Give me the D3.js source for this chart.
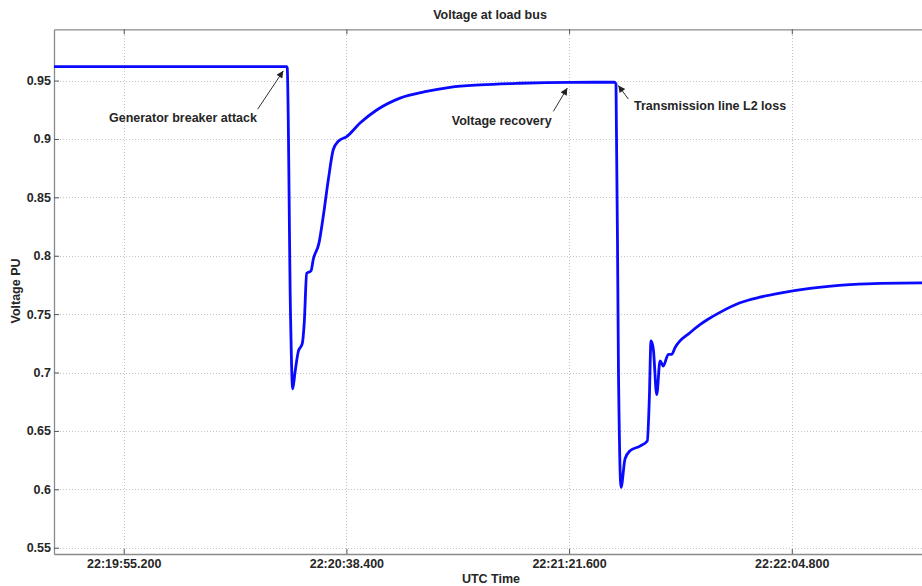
<!DOCTYPE html>
<html>
<head>
<meta charset="utf-8">
<script src="https://cdn.jsdelivr.net/npm/d3@7"></script>
<style>
  html, body { margin: 0; padding: 0; background: #fff; }
  svg { display: block; }
  text { font-family: "Liberation Sans", Arial, sans-serif; font-weight: bold; fill: #262626; }
</style>
</head>
<body>
<svg id="chart" width="922" height="586"></svg>
<script>
// ---- data ----
const times = [
  "22:19:41.680", "22:20:26.820", "22:20:26.920", "22:20:27.560", "22:20:27.980",
  "22:20:28.430", "22:20:29.070", "22:20:29.850", "22:20:30.230", "22:20:30.700",
  "22:20:31.530", "22:20:31.980", "22:20:33.090", "22:20:33.920", "22:20:34.890",
  "22:20:35.860", "22:20:36.830", "22:20:38.460", "22:20:41.040", "22:20:44.280",
  "22:20:48.800", "22:20:53.650", "22:20:58.500", "22:21:04.320", "22:21:12.080",
  "22:21:21.780", "22:21:30.410", "22:21:30.700", "22:21:31.180", "22:21:31.670",
  "22:21:32.450", "22:21:33.420", "22:21:35.360", "22:21:36.770", "22:21:37.160",
  "22:21:37.490", "22:21:37.940", "22:21:38.600", "22:21:39.240", "22:21:39.870",
  "22:21:40.850", "22:21:41.510", "22:21:42.150", "22:21:45.050", "22:21:46.990",
  "22:21:48.550", "22:21:50.870", "22:21:54.750", "22:21:58.630", "22:22:02.510",
  "22:22:08.330", "22:22:16.090", "22:22:21.910", "22:22:33.550"
];
const voltages = [
  0.962, 0.962, 0.961, 0.750, 0.686,
  0.700, 0.718, 0.725, 0.743, 0.785,
  0.787, 0.797, 0.811, 0.834, 0.865,
  0.891, 0.898, 0.902, 0.9136, 0.9248,
  0.935, 0.9405, 0.9442, 0.9463, 0.9477,
  0.9485, 0.9486, 0.947, 0.700, 0.6016,
  0.626, 0.633, 0.637, 0.6414, 0.677,
  0.727, 0.720, 0.681, 0.710, 0.7056,
  0.7156, 0.7156, 0.7213, 0.7341, 0.741,
  0.7456, 0.7515, 0.7597, 0.7645, 0.768,
  0.772, 0.7752, 0.7764, 0.7768
];
const xTickLabels = ["22:19:55.200", "22:20:38.400", "22:21:21.600", "22:22:04.800"];
const yTickValues = [0.55, 0.6, 0.65, 0.7, 0.75, 0.8, 0.85, 0.9, 0.95];
const xDomain = ["22:19:41.680", "22:22:33.550"];
const yDomain = [0.5446, 0.9939];
const annotations = [
  { text: "Generator breaker attack", time: "22:20:26.820", value: 0.962 },
  { text: "Voltage recovery", time: "22:21:21.390", value: 0.9485 },
  { text: "Transmission line L2 loss", time: "22:21:30.600", value: 0.9486 }
];
const titleText = "Voltage at load bus";
const xLabel = "UTC Time";
const yLabel = "Voltage PU";

// ---- layout ----
const parse = d3.utcParse("%H:%M:%S.%L");
const fmt = d3.utcFormat("%H:%M:%S.%L");
const L = 54, R = 940, T = 29.3, B = 554;
const svg = d3.select("#chart");

const x = d3.scaleUtc().domain(xDomain.map(parse)).range([L, R]);
const y = d3.scaleLinear().domain(yDomain).range([B, T]);

const data = times.map((t, i) => ({ t: parse(t), v: voltages[i] }));
const xTicks = xTickLabels.map(parse);

// grid
const grid = svg.append("g").attr("stroke", "#c4c4c4").attr("stroke-width", 1)
  .attr("stroke-dasharray", "1,2").attr("shape-rendering", "crispEdges");
grid.selectAll("line.gx").data(xTicks).join("line").attr("class", "gx")
  .attr("x1", d => Math.round(x(d)) + 0.5).attr("x2", d => Math.round(x(d)) + 0.5)
  .attr("y1", T).attr("y2", B);
grid.selectAll("line.gy").data(yTickValues).join("line").attr("class", "gy")
  .attr("x1", L).attr("x2", R)
  .attr("y1", d => Math.round(y(d)) + 0.5).attr("y2", d => Math.round(y(d)) + 0.5);

// axes
const axisColor = "#8a8a8a";
const gx = svg.append("g").attr("transform", `translate(0,${B})`)
  .call(d3.axisBottom(x).tickValues(xTicks).tickFormat(fmt).tickSizeInner(-5).tickSizeOuter(0).tickPadding(3));
const gxTop = svg.append("g").attr("transform", `translate(0,${T})`)
  .call(d3.axisTop(x).tickValues(xTicks).tickFormat("").tickSizeInner(-5).tickSizeOuter(0));
const gy = svg.append("g").attr("transform", `translate(${L},0)`)
  .call(d3.axisLeft(y).tickValues(yTickValues).tickFormat(d3.format("")).tickSizeInner(-5).tickSizeOuter(0).tickPadding(3));
[gx, gxTop, gy].forEach(g => {
  g.select(".domain").attr("stroke", axisColor).attr("stroke-width", 1.3);
  g.selectAll(".tick line").attr("stroke", "#555").attr("stroke-width", 1);
  g.selectAll("text").attr("font-size", "12.5px").attr("font-family", null).attr("fill", "#262626");
});
gx.selectAll("text").attr("dy", "0.9em");

// line
svg.append("defs").append("clipPath").attr("id", "clip")
  .append("rect").attr("x", L).attr("y", T).attr("width", R - L).attr("height", B - T);
svg.append("path").datum(data)
  .attr("clip-path", "url(#clip)")
  .attr("fill", "none").attr("stroke", "#0a0aff").attr("stroke-width", 2.8)
  .attr("stroke-linejoin", "round")
  .attr("d", d3.line().x(d => x(d.t)).y(d => y(d.v)).curve(d3.curveMonotoneX));

// arrowhead
svg.select("defs").append("marker").attr("id", "arrow")
  .attr("viewBox", "0 0 10 10").attr("refX", 10).attr("refY", 5)
  .attr("markerWidth", 9).attr("markerHeight", 7).attr("markerUnits", "userSpaceOnUse")
  .attr("orient", "auto")
  .append("path").attr("d", "M0,0 L10,5 L0,10 z").attr("fill", "#222");

// annotations: offsets (pixels) of text, arrow tail and arrow tip from the annotated point
const annLayout = [
  { dx: -103.7, dy: 55.5, tx: -29, ty: 42.6, hx: -3.4, hy: 4.3, anchor: "middle" },
  { dx: -66.3, dy: 42.2, tx: -14.7, ty: 29.1, hx: -0.7, hy: 5.7, anchor: "middle" },
  { dx: 18.5, dy: 27.5, tx: 12.8, ty: 16.8, hx: 2.8, hy: 3.2, anchor: "start" }
];
annotations.forEach((a, i) => {
  const px = x(parse(a.time)), py = y(a.value);
  const lay = annLayout[i];
  svg.append("line")
    .attr("x1", px + lay.tx).attr("y1", py + lay.ty)
    .attr("x2", px + lay.hx).attr("y2", py + lay.hy)
    .attr("stroke", "#333").attr("stroke-width", 1)
    .attr("marker-end", "url(#arrow)");
  svg.append("text").attr("x", px + lay.dx).attr("y", py + lay.dy)
    .attr("text-anchor", lay.anchor).attr("font-size", "12.5px").text(a.text);
});

// titles
svg.append("text").attr("x", 490).attr("y", 19).attr("text-anchor", "middle")
  .attr("font-size", "12.5px").text(titleText);
svg.append("text").attr("x", 491).attr("y", 583).attr("text-anchor", "middle")
  .attr("font-size", "12.5px").text(xLabel);
svg.append("text").attr("transform", "translate(20,291) rotate(-90)").attr("text-anchor", "middle")
  .attr("font-size", "12.5px").text(yLabel);
</script>
</body>
</html>
